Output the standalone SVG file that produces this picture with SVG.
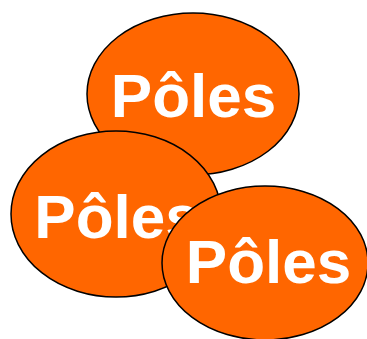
<svg xmlns="http://www.w3.org/2000/svg" width="367" height="339" viewBox="0 0 367 339">
<style>
.pole{fill:#FF6600;stroke:#000;stroke-width:1.5}
.lbl{fill:#fff;font-family:"Liberation Sans",Arial,sans-serif;font-weight:bold;font-size:62px;text-anchor:middle}
</style>
<rect width="367" height="339" fill="#fff"/>
<g id="pole1"><ellipse class="pole" cx="193" cy="94" rx="106" ry="81"/><text class="lbl" x="193.5" y="117">Pôles</text></g>
<g id="pole2"><ellipse class="pole" cx="116" cy="214" rx="105" ry="83"/><text class="lbl" x="117" y="238">Pôles</text></g>
<g id="pole3"><ellipse class="pole" cx="265" cy="263" rx="103" ry="77"/><text class="lbl" x="268.5" y="283">Pôles</text></g>
</svg>
